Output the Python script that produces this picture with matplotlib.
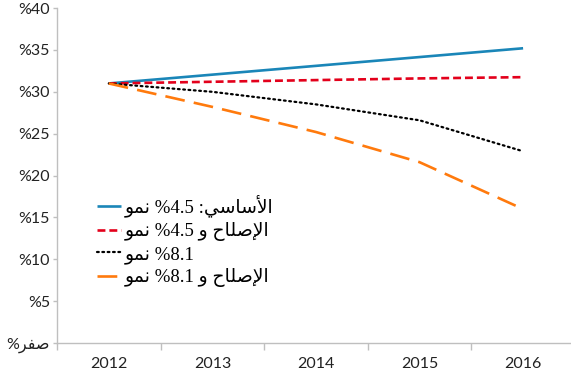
import matplotlib
matplotlib.use("Agg")
import matplotlib.pyplot as plt
from matplotlib.ticker import FixedLocator

# Arabic words written in presentation forms, already in left-to-right visual order
NUMU = "\uFEEE\uFEE4\uFEE7"                      # نمو
ASASI = "\uFEF2\uFEB3\uFE8E\uFEB3\uFEF7\uFE8D"   # الأساسي
ISLAH = "\uFEA1\uFE8E\uFEE0\uFEBB\uFEF9\uFE8D"   # الإصلاح
WAW = "\uFEED"                                   # و
SIFR = "\uFEAE\uFED4\uFEBB"                      # صفر

years = ["2012", "2013", "2014", "2015", "2016"]
baseline_45 = [31.0, 32.05, 33.1, 34.15, 35.2]
reform_45 = [31.0, 31.2, 31.4, 31.6, 31.75]
growth_81 = [31.0, 30.0, 28.5, 26.6, 22.9]
reform_81 = [31.0, 28.2, 25.2, 21.6, 16.0]

series_labels = [
    NUMU + " %4.5 :" + ASASI,
    NUMU + " %4.5 " + WAW + " " + ISLAH,
    NUMU + " %8.1",
    NUMU + " %8.1 " + WAW + " " + ISLAH,
]
y_ticks = [0, 5, 10, 15, 20, 25, 30, 35, 40]
y_tick_labels = ["%" + SIFR] + ["%{}".format(v) for v in y_ticks[1:]]

AXIS_GREY = "#BFBFBF"
TICK_FONT = ["Lato", "DejaVu Sans"]
LEGEND_FONT = ["Liberation Serif", "DejaVu Sans"]

fig = plt.figure(figsize=(5.71, 3.77), dpi=100)
ax = fig.add_axes([0.0998, 0.090, 0.907, 0.8886])

x = list(range(len(years)))
ax.plot(x, baseline_45, color="#1A86B8", linewidth=1.9, solid_capstyle="butt", label=series_labels[0])
ax.plot(x, reform_45, color="#E3001B", linewidth=1.9, linestyle=(0, (3.0, 1.5)), label=series_labels[1])
ax.plot(x, growth_81, color="#000000", linewidth=1.6, linestyle=(0, (0.8, 1.6)),
        dash_capstyle="round", label=series_labels[2])
ax.plot(x, reform_81, color="#FF7A0D", linewidth=1.9, linestyle=(0, (7.5, 3.5)), label=series_labels[3])

ax.set_xlim(-0.5, 4.5)
ax.set_ylim(0, 40)
ax.set_xticks(x)
ax.set_xticklabels(years)
ax.xaxis.set_minor_locator(FixedLocator([-0.5, 0.5, 1.5, 2.5, 3.5, 4.5]))
ax.tick_params(axis="x", which="major", length=0, pad=10)
ax.tick_params(axis="x", which="minor", length=5, color=AXIS_GREY, width=1)
ax.set_yticks(y_ticks)
ax.set_yticklabels(y_tick_labels)
ax.tick_params(axis="y", length=3, color=AXIS_GREY, width=1, pad=2)
for lab in ax.get_xticklabels() + ax.get_yticklabels():
    lab.set_fontfamily(TICK_FONT)
    lab.set_fontsize(11.5)
    lab.set_color("#222222")

for side in ("top", "right"):
    ax.spines[side].set_visible(False)
for side in ("left", "bottom"):
    ax.spines[side].set_color(AXIS_GREY)
    ax.spines[side].set_linewidth(1)

ax.legend(
    loc="upper left",
    bbox_to_anchor=(0.062, 0.465),
    frameon=False,
    prop={"family": LEGEND_FONT, "size": 13.5},
    handlelength=1.3,
    handletextpad=0.2,
    labelspacing=0.25,
    borderaxespad=0,
)

fig.savefig("out.png", dpi=100)
